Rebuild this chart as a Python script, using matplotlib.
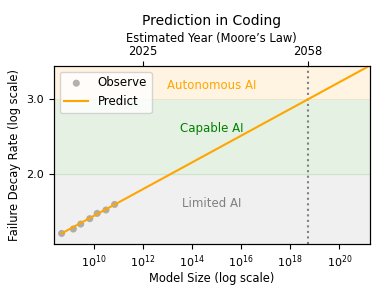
import numpy as np
import matplotlib
matplotlib.use("Agg")
import matplotlib.pyplot as plt

# Observed model sizes (Qwen2.5-like: 0.5B .. 72B) and failure decay rates
observe_size = [0.5e9, 1.5e9, 3e9, 7e9, 14e9, 32e9, 72e9]
observe_rate = [1.455, 1.49, 1.53, 1.575, 1.62, 1.65, 1.70]

# Prediction line (power law fit, endpoints)
predict_size = [0.5e9, 1.74e21]
predict_rate = [1.455, 3.58]

# Crossing point into "Autonomous AI"
cross_size = 5.2e18
year_ticks = [1e12, cross_size]
year_labels = ["2025", "2058"]

x_lim = (10**8.384, 10**21.24)
y_lim = (1.376, 3.58)

fig = plt.figure(figsize=(3.82, 2.97), dpi=100)
ax = fig.add_axes([0.141, 0.179, 0.827, 0.6])

# capability bands
ax.axhspan(y_lim[0], 2.0, color="#f0f0f0", zorder=0)
ax.axhspan(2.0, 3.0, color="#e5f1e3", zorder=0)
ax.axhspan(3.0, y_lim[1], color="#fff4e2", zorder=0)
ax.axhline(2.0, color="#cfe3cc", lw=0.8, zorder=0.5)
ax.axhline(3.0, color="#e3e8cf", lw=0.8, zorder=0.5)

ax.scatter(observe_size, observe_rate, color="gray", alpha=0.6, s=26,
           edgecolor="none", label="Observe", zorder=2)
ax.plot(predict_size, predict_rate, color="orange", lw=1.5, label="Predict", zorder=3)
ax.axvline(cross_size, color="gray", ls=":", lw=1.5, zorder=1)

ax.text(0.5, 3.22, "Autonomous AI", color="orange", fontsize=8.5, ha="center", va="center",
        transform=ax.get_yaxis_transform())
ax.text(0.5, 2.55, "Capable AI", color="green", fontsize=8.5, ha="center", va="center",
        transform=ax.get_yaxis_transform())
ax.text(0.5, 1.71, "Limited AI", color="gray", fontsize=8.5, ha="center", va="center",
        transform=ax.get_yaxis_transform())

ax.set_xscale("log")
ax.set_yscale("log")
ax.set_xlim(*x_lim)
ax.set_ylim(*y_lim)
ax.set_xticks([1e10, 1e12, 1e14, 1e16, 1e18, 1e20])
ax.xaxis.set_minor_locator(matplotlib.ticker.NullLocator())
ax.set_yticks([2.0, 3.0])
ax.set_yticklabels(["2.0", "3.0"])
ax.yaxis.set_minor_locator(matplotlib.ticker.NullLocator())
ax.tick_params(labelsize=8)
ax.set_xlabel("Model Size (log scale)", fontsize=8.3, labelpad=1)
ax.set_ylabel("Failure Decay Rate (log scale)", fontsize=8.3)

ax.legend(loc="upper left", fontsize=8.5)

top = ax.twiny()
top.set_xscale("log")
top.set_xlim(*x_lim)
top.set_xticks(year_ticks)
top.set_xticklabels(year_labels)
top.xaxis.set_minor_locator(matplotlib.ticker.NullLocator())
top.tick_params(labelsize=8.3, pad=2)
top.set_xlabel("Estimated Year (Moore’s Law)", fontsize=8.3, labelpad=2.5)
top.set_title("Prediction in Coding", fontsize=10, pad=5)

fig.savefig("out.png", dpi=100)
